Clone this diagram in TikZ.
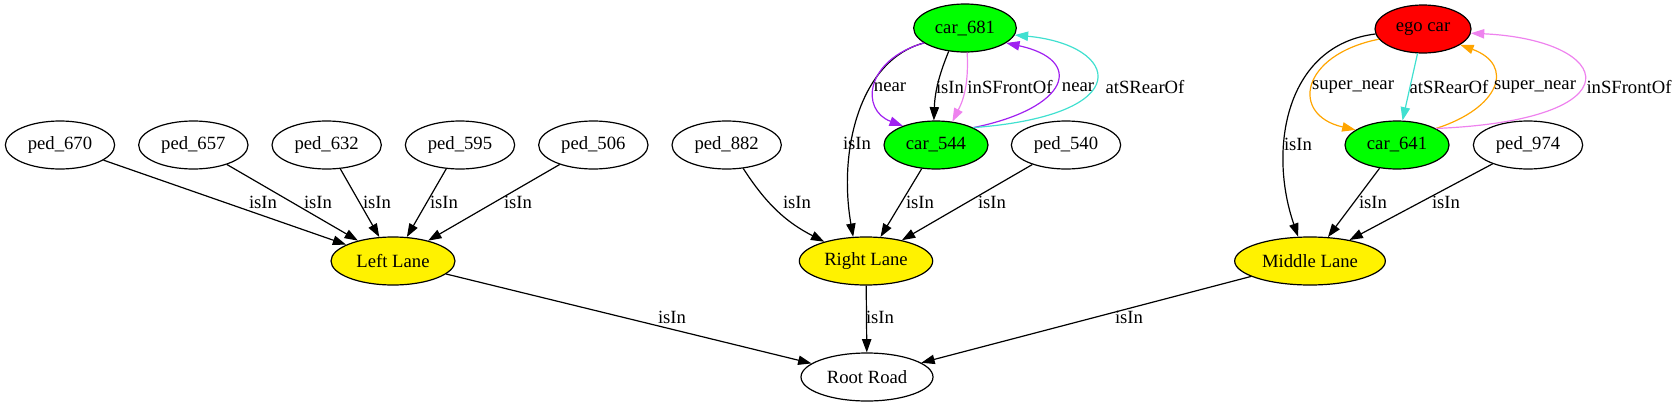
\documentclass[tikz,border=0pt]{standalone}
\usepackage{fontspec}
\setmainfont{Liberation Serif}
\usepackage{tikz}
\usetikzlibrary{shapes, arrows.meta, positioning}
\definecolor{gvpurple}{HTML}{A020F0}
\definecolor{gvviolet}{HTML}{EE82EE}
\definecolor{gvturq}{HTML}{40E0D0}
\definecolor{gvorange}{HTML}{FFA500}
\tikzstyle{entity} = [draw, shape=ellipse, inner sep=0pt, minimum height=36pt, minimum width=82pt]
\tikzstyle{lane} = [entity, fill=yellow]
\tikzstyle{car} = [entity, fill=green, minimum width=78pt]
\tikzstyle{rel} = [inner sep=1pt, text=black]

\begin{document}
\begin{tikzpicture}[x=0.75pt, y=-0.75pt, node distance=100pt, >={Triangle[length=10pt,width=7pt]},
    font=\fontsize{14}{16}\selectfont, line width=0.9pt]
    \useasboundingbox (0,0) rectangle (1676,407);

    % pedestrians on the left
    \node [entity] (ped670) at (60,145) {ped\_670};
    \node [entity, right of=ped670] (ped657) {ped\_657};
    \node [entity, right of=ped657] (ped632) {ped\_632};
    \node [entity, right of=ped632] (ped595) {ped\_595};
    \node [entity, right of=ped595] (ped506) {ped\_506};
    \node [entity, right of=ped506] (ped882) {ped\_882};

    % cars
    \node [car, minimum width=77pt] (car681) at (965,28) {car\_681};
    \node [car] (car544) at (936,145) {car\_544};
    \node [entity] (ped540) at (1066,145) {ped\_540};
    \node [entity, fill=red, minimum width=72pt] (ego) at (1423,29) {ego car};
    \node [car] (car641) at (1397,145) {car\_641};
    \node [entity] (ped974) at (1528,145) {ped\_974};

    % lanes and road
    \node [lane, minimum width=93pt] (leftlane) at (393,261) {Left Lane};
    \node [lane, minimum width=100pt] (rightlane) at (866,261) {Right Lane};
    \node [lane, minimum width=113pt] (midlane) at (1310,261) {Middle Lane};
    \node [entity, minimum width=99pt] (root) at (867,377) {Root Road};

    \draw [->] (ped670) -- (leftlane) node [rel] at (263,202) {isIn};
    \draw [->] (ped657) -- (leftlane) node [rel] at (318,202) {isIn};
    \draw [->] (ped632) -- (leftlane) node [rel] at (377,202) {isIn};
    \draw [->] (ped595) -- (leftlane) node [rel] at (444,202) {isIn};
    \draw [->] (ped506) -- (leftlane) node [rel] at (518,202) {isIn};

    \draw [->] (ped882) to [bend right=15] (rightlane) node [rel] at (797,202) {isIn};
    \draw [->] (car681.200) .. controls (860,60) and (838,150) .. (rightlane.118) node [rel] at (857,143) {isIn};
    \draw [->] (car544) -- (rightlane) node [rel] at (920,202) {isIn};
    \draw [->] (ped540) -- (rightlane) node [rel] at (992,202) {isIn};

    \draw [->, gvpurple] (car681.200) .. controls (865,60) and (860,110) .. (car544.150) node [rel] at (890,87) {near};
    \draw [->] (car681.-125) to [bend right=10] (car544.95) node [rel] at (950,87) {isIn};
    \draw [->, gvviolet] (car681.-85) to [bend left=15] (car544.55) node [rel] at (1010,87) {inSFrontOf};
    \draw [->, gvpurple] (car544.25) .. controls (1070,108) and (1085,60) .. (car681.-20) node [rel] at (1078,87) {near};
    \draw [->, gvturq] (car544.25) .. controls (1140,115) and (1120,45) .. (car681.-8) node [rel] at (1145,87) {atSRearOf};

    \draw [->] (ego.186) .. controls (1285,45) and (1268,150) .. (midlane.116) node [rel] at (1298,144) {isIn};
    \draw [->, gvorange] (ego.193) .. controls (1300,55) and (1290,115) .. (car641.160) node [rel] at (1353,87) {super\_near};
    \draw [->, gvturq] (ego) -- (car641) node [rel] at (1449,87) {atSRearOf};
    \draw [->, gvorange] (car641.23) .. controls (1500,108) and (1515,65) .. (ego.-23) node [rel] at (1535,87) {super\_near};
    \draw [->, gvviolet] (car641.23) .. controls (1640,120) and (1615,40) .. (ego.-5) node [rel] at (1629,87) {inSFrontOf};
    \draw [->] (car641) -- (midlane) node [rel] at (1373,202) {isIn};
    \draw [->] (ped974) -- (midlane) node [rel] at (1446,202) {isIn};

    \draw [->] (leftlane) -- (root) node [rel] at (672,317) {isIn};
    \draw [->] (rightlane) -- (root) node [rel] at (880,317) {isIn};
    \draw [->] (midlane) -- (root) node [rel] at (1129,317) {isIn};
\end{tikzpicture}
\end{document}
